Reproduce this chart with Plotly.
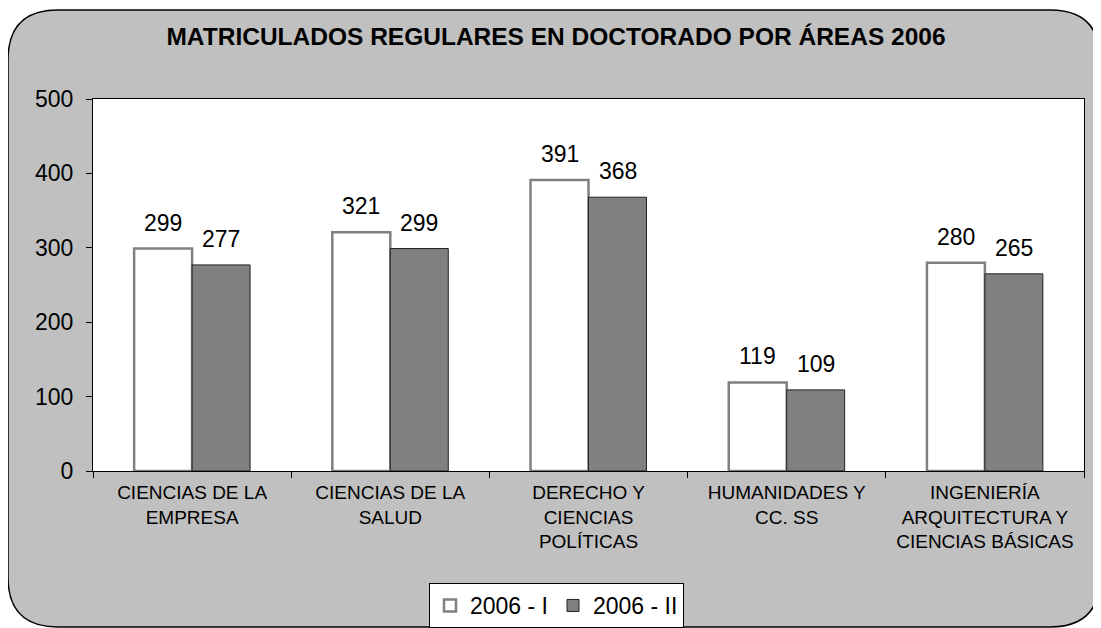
import plotly.graph_objects as go

categories = ["CIENCIAS DE LA<br>EMPRESA", "CIENCIAS DE LA<br>SALUD",
              "DERECHO Y<br>CIENCIAS<br>POLÍTICAS", "HUMANIDADES Y<br>CC. SS",
              "INGENIERÍA<br>ARQUITECTURA Y<br>CIENCIAS BÁSICAS"]
serie_1 = [299, 321, 391, 119, 280]
serie_2 = [277, 299, 368, 109, 265]
name_1 = "2006 - I"
name_2 = "2006 - II"
title = "MATRICULADOS REGULARES EN DOCTORADO POR ÁREAS 2006"
y_ticks = [0, 100, 200, 300, 400, 500]

# the page body has an 8px margin; work in reference pixel coords minus offset
OFF = 8
W, H = 1101 - OFF, 628 - OFF
PL, PR, PT, PB = 93, 1084, 99, 471  # plot area in reference pixels
L, R, T, B = PL - OFF, W - (PR - OFF), PT - OFF, H - (PB - OFF)
pw, ph = W - L - R, H - T - B


def px(x):
    return (x - OFF - L) / pw


def py(y):
    return (H - B - (y - OFF)) / ph


# rounded background (reference pixel geometry -> paper coords)
x0, x1, y0, y1, r = 8, 1100, 10, 627, 50
path = (f"M {px(x0+r)},{py(y0)} L {px(x1-r)},{py(y0)} "
        f"Q {px(x1)},{py(y0)} {px(x1)},{py(y0+r)} "
        f"L {px(x1)},{py(y1-r)} Q {px(x1)},{py(y1)} {px(x1-r)},{py(y1)} "
        f"L {px(x0+r)},{py(y1)} Q {px(x0)},{py(y1)} {px(x0)},{py(y1-r)} "
        f"L {px(x0)},{py(y0+r)} Q {px(x0)},{py(y0)} {px(x0+r)},{py(y0)} Z")

font = "Liberation Sans, Arial, sans-serif"
BAR_HALF = 29  # half bar width in px, for label centering

fig = go.Figure()
fig.add_trace(go.Bar(x=categories, y=serie_1, name=name_1,
                     marker=dict(color="white", line=dict(color="#808080", width=2.5))))
fig.add_trace(go.Bar(x=categories, y=serie_2, name=name_2,
                     marker=dict(color="#808080", line=dict(color="#222222", width=1))))

annotations = []
for cat, v1, v2 in zip(categories, serie_1, serie_2):
    for v, sh in ((v1, -BAR_HALF), (v2, BAR_HALF)):
        annotations.append(dict(x=cat, y=v, xref="x", yref="y", text=str(v),
                                showarrow=False, xanchor="center", yanchor="bottom",
                                xshift=sh, yshift=11,
                                font=dict(size=23, color="black", family=font)))

fig.update_layout(
    width=W, height=H,
    margin=dict(l=L, r=R, t=T, b=B, autoexpand=False),
    paper_bgcolor="white", plot_bgcolor="white",
    font=dict(family=font, color="black"),
    bargap=0.415, bargroupgap=0, barmode="group",
    title=dict(text=f"<b>{title}</b>", x=(556 - OFF) / W, xanchor="center",
               xref="container", y=1 - (36 - OFF) / H, yanchor="middle",
               font=dict(size=24.5, family=font)),
    legend=dict(orientation="h", x=px(556.5), xanchor="center", y=py(583), yanchor="top",
                bgcolor="white", bordercolor="black", borderwidth=1,
                font=dict(size=23, family=font), itemwidth=30,
                tracegroupgap=0),
    annotations=annotations,
    shapes=[
        dict(type="path", xref="paper", yref="paper", path=path, layer="below",
             fillcolor="#C0C0C0", line=dict(color="black", width=1.5)),
        dict(type="rect", xref="paper", yref="paper", x0=0, x1=1, y0=0, y1=1,
             layer="below", fillcolor="white", line=dict(width=0)),
    ],
    showlegend=True,
)
fig.update_xaxes(showline=True, linecolor="black", linewidth=1, mirror=True,
                 ticks="outside", ticklen=6, tickcolor="black", tickson="boundaries",
                 tickfont=dict(size=19, family=font), showgrid=False,
                 ticklabelstandoff=4)
fig.update_yaxes(range=[0, 500], tickvals=y_ticks, showline=True, linecolor="black",
                 linewidth=1, mirror=True, ticks="outside", ticklen=6, tickcolor="black",
                 tickfont=dict(size=23, family=font), showgrid=False, zeroline=False,
                 ticklabelstandoff=8)

fig.write_html("out.html")
